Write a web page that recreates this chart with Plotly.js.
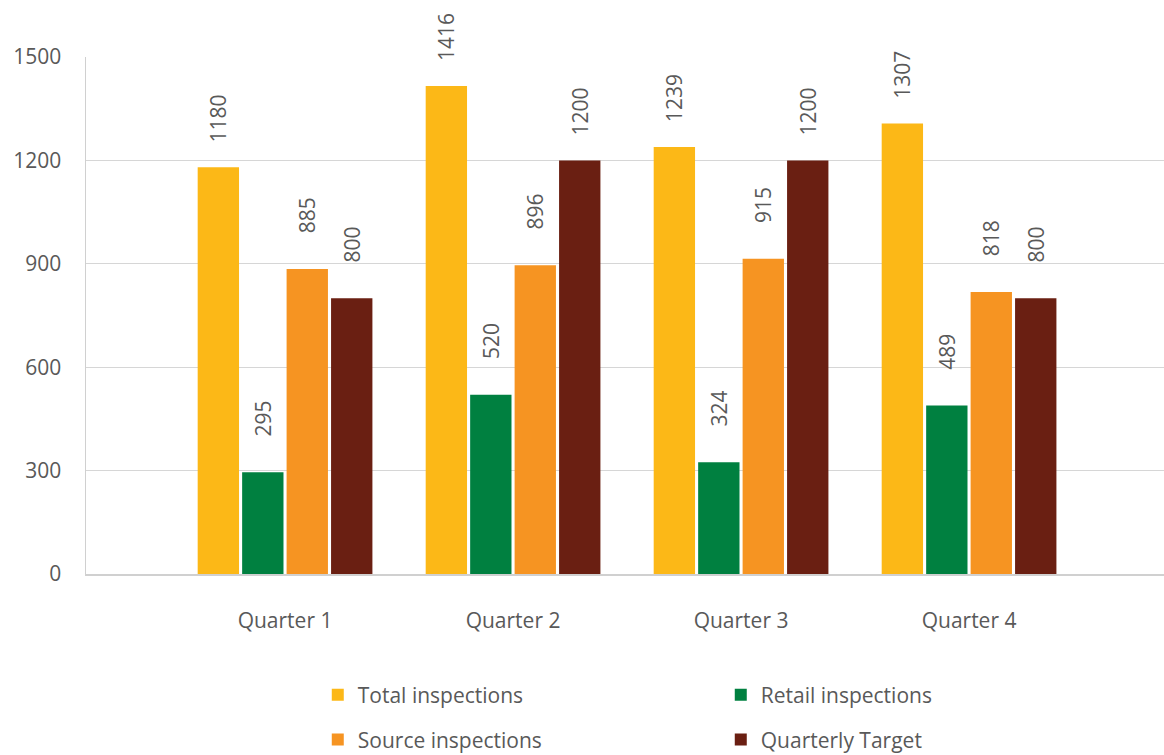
<!DOCTYPE html>
<html><head><meta charset="utf-8">
<script src="https://cdn.plot.ly/plotly-3.0.1.min.js"></script>
<style>html,body{margin:0;padding:0;background:#fff}#chart{width:1164px;height:755px}</style>
</head><body><div id="chart"></div>
<script>
const categories = ["Quarter 1", "Quarter 2", "Quarter 3", "Quarter 4"];
const totalInspections = [1180, 1416, 1239, 1307];
const retailInspections = [295, 520, 324, 489];
const sourceInspections = [885, 896, 915, 818];
const quarterlyTarget = [800, 1200, 1200, 800];
const yTicks = [0, 300, 600, 900, 1200, 1500];

const FONT = "'Open Sans', 'Noto Sans', sans-serif";
const GREY = "#595959";

// pad labels so they sit clear of the bar top, as in the reference
function label(v) {
  const s = String(v);
  return "\u00a0".repeat(2 * (6 - s.length)) + s;
}

function bar(name, vals, color, legend) {
  return {
    type: "bar", name: name, x: categories, y: vals,
    marker: {color: color},
    text: vals.map(label), textposition: "outside", textangle: -90,
    constraintext: "none",
    textfont: {family: FONT, size: 21, color: GREY},
    cliponaxis: false, legend: legend, hoverinfo: "x+y"
  };
}

const data = [
  bar("Total inspections", totalInspections, "#FCB817", "legend"),
  bar("Retail inspections", retailInspections, "#008040", "legend"),
  bar("Source inspections", sourceInspections, "#F69422", "legend2"),
  bar("Quarterly Target", quarterlyTarget, "#6A1F12", "legend2")
];

const legendCommon = {
  orientation: "h", xanchor: "left", yanchor: "middle",
  x: 0.215, entrywidth: 358, entrywidthmode: "pixels",
  font: {family: FONT, size: 21, color: GREY}, bgcolor: "rgba(0,0,0,0)",
  traceorder: "normal"
};

const layout = {
  width: 1164, height: 755,
  margin: {l: 86, r: 0, t: 57, b: 181, autoexpand: false},
  paper_bgcolor: "#fff", plot_bgcolor: "#fff",
  font: {family: FONT, color: GREY},
  barmode: "group", bargap: 0.22, bargroupgap: 0.07,
  showlegend: true,
  legend: Object.assign({}, legendCommon, {y: -0.234}),
  legend2: Object.assign({}, legendCommon, {y: -0.321}),
  xaxis: {
    type: "category", range: [-0.873, 3.855],
    showline: true, linecolor: "#d0d0d0", linewidth: 1.5,
    showgrid: false, ticks: "",
    tickfont: {family: FONT, size: 21, color: GREY},
    ticklabelstandoff: 27
  },
  yaxis: {
    range: [0, 1500], tickvals: yTicks, ticktext: yTicks.map(String),
    showline: true, linecolor: "#d0d0d0", linewidth: 1.5,
    showgrid: true, gridcolor: "#d6d6d6", gridwidth: 1.3, zeroline: false,
    ticks: "", tickfont: {family: FONT, size: 21, color: GREY},
    ticklabelstandoff: 19
  }
};

Plotly.newPlot("chart", data, layout, {displayModeBar: false, staticPlot: true});
</script></body></html>
